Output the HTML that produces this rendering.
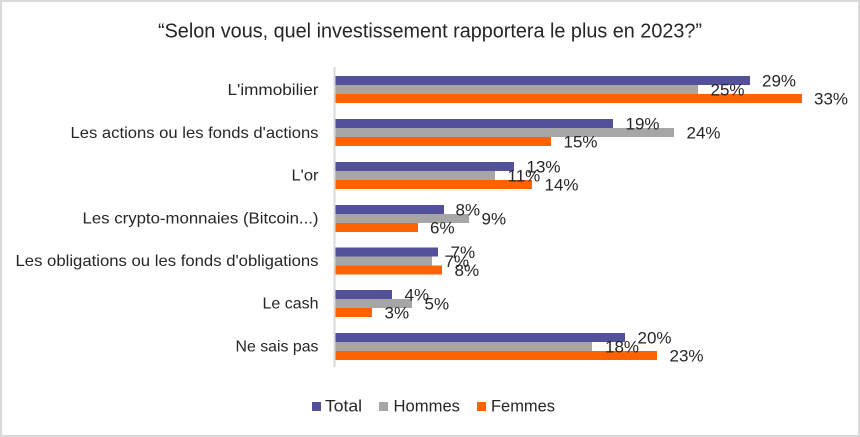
<!DOCTYPE html>
<html>
<head>
<meta charset="utf-8">
<style>
  html, body { margin: 0; padding: 0; background: #fff; }
  body { width: 860px; height: 437px; overflow: hidden; }
  svg { display: block; }
  text { font-family: "Liberation Sans", "DejaVu Sans", sans-serif; fill: #262626; }
</style>
</head>
<body>
<svg width="860" height="437" viewBox="0 0 860 437" xmlns="http://www.w3.org/2000/svg">
  <rect x="0" y="0" width="860" height="437" fill="#ffffff"/>
  <rect x="1" y="1" width="858" height="435" fill="none" stroke="#d9d9d9" stroke-width="2"/>

  <!-- Title -->
  <text x="158" y="37.5" font-size="20" textLength="544" lengthAdjust="spacingAndGlyphs">“Selon vous, quel investissement rapportera  le plus en 2023?”</text>

  <!-- Category labels -->
  <g font-size="16" text-anchor="end">
    <text x="318.5" y="95" textLength="91" lengthAdjust="spacingAndGlyphs">L'immobilier</text>
    <text x="318.5" y="138" textLength="248" lengthAdjust="spacingAndGlyphs">Les actions ou les fonds d'actions</text>
    <text x="318.5" y="180.5" textLength="27" lengthAdjust="spacingAndGlyphs">L'or</text>
    <text x="318.5" y="223.5" textLength="236" lengthAdjust="spacingAndGlyphs">Les crypto-monnaies (Bitcoin...)</text>
    <text x="318.5" y="266" textLength="303" lengthAdjust="spacingAndGlyphs">Les obligations ou les fonds d'obligations</text>
    <text x="318.5" y="308.5" textLength="56" lengthAdjust="spacingAndGlyphs">Le cash</text>
    <text x="318.5" y="351.5" textLength="83" lengthAdjust="spacingAndGlyphs">Ne sais pas</text>
  </g>

  <!-- Bars -->
  <g>
    <!-- Row 1 top 76 -->
    <rect x="335.5" y="76" width="414.5" height="9" fill="#525199"/>
    <rect x="335.5" y="85" width="362.5" height="9" fill="#a6a6a6"/>
    <rect x="335.5" y="94" width="466.5" height="9" fill="#ff6200"/>
    <!-- Row 2 top 119 -->
    <rect x="335.5" y="119" width="277.5" height="9" fill="#525199"/>
    <rect x="335.5" y="128" width="338.5" height="9" fill="#a6a6a6"/>
    <rect x="335.5" y="137" width="215.5" height="9" fill="#ff6200"/>
    <!-- Row 3 top 162 -->
    <rect x="335.5" y="162" width="178.5" height="9" fill="#525199"/>
    <rect x="335.5" y="171" width="159.5" height="9" fill="#a6a6a6"/>
    <rect x="335.5" y="180" width="196.5" height="9" fill="#ff6200"/>
    <!-- Row 4 top 205 -->
    <rect x="335.5" y="205" width="108.5" height="9" fill="#525199"/>
    <rect x="335.5" y="214" width="133.5" height="9" fill="#a6a6a6"/>
    <rect x="335.5" y="223" width="82.5" height="9" fill="#ff6200"/>
    <!-- Row 5 top 247.5 -->
    <rect x="335.5" y="247.5" width="102.5" height="9" fill="#525199"/>
    <rect x="335.5" y="256.5" width="96.5" height="9" fill="#a6a6a6"/>
    <rect x="335.5" y="265.5" width="106.5" height="9" fill="#ff6200"/>
    <!-- Row 6 top 290 -->
    <rect x="335.5" y="290" width="56.5" height="9" fill="#525199"/>
    <rect x="335.5" y="299" width="76.5" height="9" fill="#a6a6a6"/>
    <rect x="335.5" y="308" width="36.5" height="9" fill="#ff6200"/>
    <!-- Row 7 top 333 -->
    <rect x="335.5" y="333" width="289.5" height="9" fill="#525199"/>
    <rect x="335.5" y="342" width="256.5" height="9" fill="#a6a6a6"/>
    <rect x="335.5" y="351" width="321.5" height="9" fill="#ff6200"/>
  </g>

  <!-- Axis line -->
  <rect x="333.5" y="67" width="2" height="300" fill="#d9d9d9"/>

  <!-- Data labels -->
  <g font-size="17">
    <text x="762" y="86.5">29%</text>
    <text x="710.5" y="95.5">25%</text>
    <text x="814" y="104.5">33%</text>

    <text x="625.5" y="129.5">19%</text>
    <text x="686.5" y="138.5">24%</text>
    <text x="563.5" y="147.5">15%</text>

    <text x="526.5" y="172.5">13%</text>
    <text x="507.5" y="181.5">11%</text>
    <text x="544.5" y="190.5">14%</text>

    <text x="455.5" y="215.5">8%</text>
    <text x="481.5" y="224.5">9%</text>
    <text x="430" y="233.5">6%</text>

    <text x="450.5" y="258">7%</text>
    <text x="444.5" y="267">7%</text>
    <text x="454.5" y="276">8%</text>

    <text x="404.5" y="300.5">4%</text>
    <text x="424.5" y="309.5">5%</text>
    <text x="384.5" y="318.5">3%</text>

    <text x="637.5" y="343.5">20%</text>
    <text x="605" y="352.5">18%</text>
    <text x="669.5" y="361.5">23%</text>
  </g>

  <!-- Legend -->
  <g font-size="16.5">
    <rect x="312" y="402" width="9" height="9" fill="#525199"/>
    <text x="325" y="411.7" textLength="37" lengthAdjust="spacingAndGlyphs">Total</text>
    <rect x="379" y="402" width="9" height="9" fill="#a6a6a6"/>
    <text x="393.5" y="411.7" textLength="66.5" lengthAdjust="spacingAndGlyphs">Hommes</text>
    <rect x="477" y="402" width="9" height="9" fill="#ff6200"/>
    <text x="491" y="411.7" textLength="64" lengthAdjust="spacingAndGlyphs">Femmes</text>
  </g>
</svg>
</body>
</html>
